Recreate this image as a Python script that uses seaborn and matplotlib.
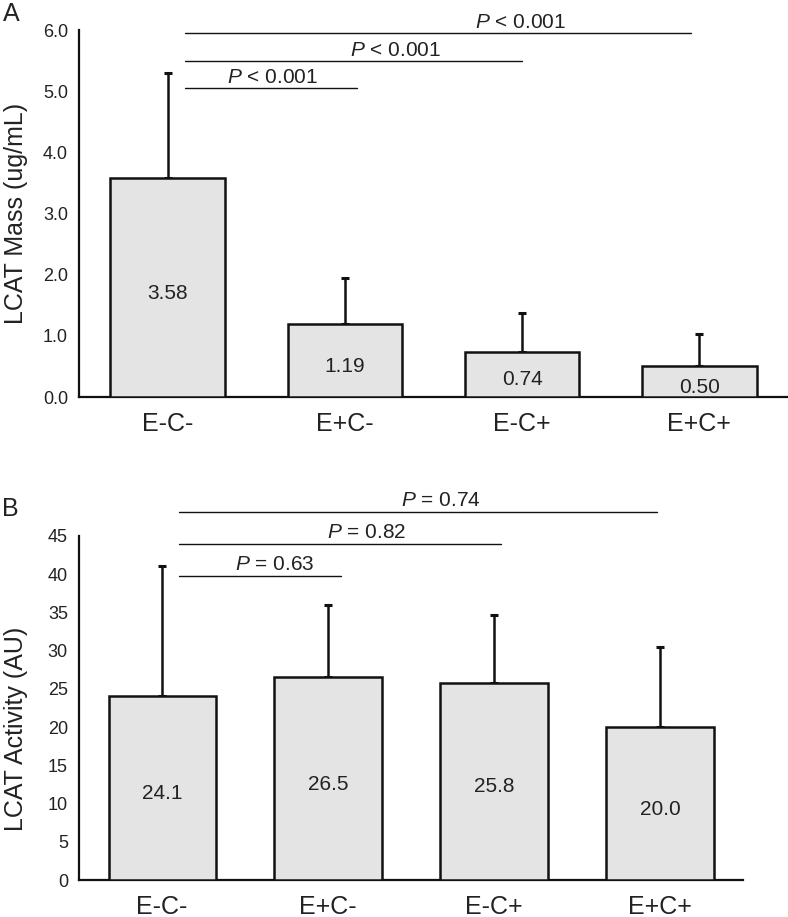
import matplotlib
matplotlib.use('Agg')
import matplotlib.pyplot as plt
import seaborn as sns
import pandas as pd

# ── Data ──────────────────────────────────────────────────────────────────────
groups = ['E-C-', 'E+C-', 'E-C+', 'E+C+']

mass_mean = [3.58, 1.19, 0.74, 0.50]
mass_sd = [1.72, 0.75, 0.63, 0.53]
mass_p = ['< 0.001', '< 0.001', '< 0.001']

act_mean = [24.1, 26.5, 25.8, 20.0]
act_sd = [17.0, 9.5, 8.9, 10.5]
act_p = ['= 0.63', '= 0.82', '= 0.74']

# ── Style ─────────────────────────────────────────────────────────────────────
sns.set_style('white')
plt.rcParams['font.family'] = ['Liberation Sans', 'DejaVu Sans']
plt.rcParams['mathtext.fontset'] = 'custom'
plt.rcParams['mathtext.it'] = 'Liberation Sans:italic'
plt.rcParams['mathtext.rm'] = 'Liberation Sans'

BAR_GRAY = '#e4e4e4'
EDGE = '#111111'
FIG_W = 788

fig = plt.figure(figsize=(7.88, 9.17), dpi=100)
ax_a = fig.add_axes([0.1003, 0.567, 0.8997, 0.400])
ax_b = fig.add_axes([0.1003, 0.0403, 0.8426, 0.3752])


def draw_panel(ax, means, sds, ymax, yticks, tick_fmt, val_fmt, ylabel,
               sig_p, sig_y, sig_end, text_x, label_y):
    df = pd.DataFrame({'group': groups, 'value': means})
    sns.barplot(data=df, x='group', y='value', color=BAR_GRAY, saturation=1,
                edgecolor=EDGE, linewidth=1.8, width=0.645, errorbar=None,
                ax=ax, zorder=3)
    # one-sided (upper) SD bars
    ax.errorbar(range(len(means)), means, yerr=[[0] * len(sds), sds],
                fmt='none', ecolor=EDGE, elinewidth=1.8, capsize=2.6,
                capthick=2.2, zorder=2)
    ax.bar_label(ax.containers[0], fmt=val_fmt, label_type='center',
                 fontsize=15, color='#222222', padding=-4)

    ax.set_xlim(-0.5, 3.5)
    ax.set_ylim(0, ymax)
    ax.set_yticks(yticks)
    ax.set_yticklabels([tick_fmt.format(t) for t in yticks])
    ax.set_xlabel('')
    ax.set_ylabel(ylabel, fontsize=18, color='#222222')
    ax_px = ax.get_position().width * FIG_W
    ax.yaxis.set_label_coords(-(79 - 28) / ax_px, label_y)
    ax.tick_params(axis='y', length=0, pad=8, labelsize=13, colors='#222222')
    ax.tick_params(axis='x', length=0, pad=11, labelsize=18, colors='#222222')
    sns.despine(ax=ax)
    for s in ['left', 'bottom']:
        ax.spines[s].set_linewidth(1.6)
        ax.spines[s].set_color(EDGE)

    # significance lines from the first group
    for p, y, xe, tx in zip(sig_p, sig_y, sig_end, text_x):
        ax.plot([0.1, xe], [y, y], color=EDGE, linewidth=1.0, clip_on=False)
        ax.annotate(r'$P$ ' + p, xy=(tx, y), xytext=(0, 4),
                    textcoords='offset points', ha='center', va='baseline',
                    fontsize=15, color='#222222', annotation_clip=False)


draw_panel(ax_a, mass_mean, mass_sd, 6.0, [0, 1, 2, 3, 4, 5, 6], '{:.1f}', '%.2f',
           'LCAT Mass (ug/mL)', mass_p, [5.05, 5.49, 5.95], [1.07, 2.0, 2.95],
           [0.594, 1.283, 1.988], 0.5)
draw_panel(ax_b, act_mean, act_sd, 45, list(range(0, 50, 5)), '{:d}', '%.1f',
           'LCAT Activity (AU)', act_p, [39.8, 44.0, 48.2], [1.08, 2.04, 2.98],
           [0.68, 1.235, 1.68], 0.44)

fig.text(0.004, 0.998, 'A', fontsize=18, ha='left', va='top', color='#222222')
fig.text(0.002, 0.458, 'B', fontsize=18, ha='left', va='top', color='#222222')

plt.savefig('out.png', dpi=100)
plt.close()
